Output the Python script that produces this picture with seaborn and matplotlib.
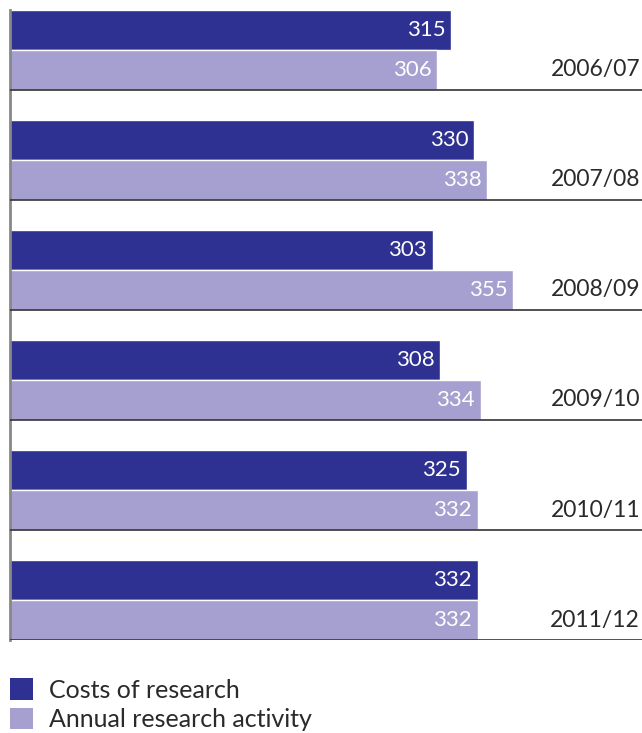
import pandas as pd
import numpy as np
import matplotlib.pyplot as plt
import seaborn as sns
from matplotlib.patches import Patch

# values
years = ["2006/07", "2007/08", "2008/09", "2009/10", "2010/11", "2011/12"]
costs = [315, 330, 303, 308, 325, 332]
activity = [306, 338, 355, 334, 332, 332]
series = ["Costs of research", "Annual research activity"]
colors = ["#2E3192", "#A5A0CF"]

df = pd.DataFrame({
    "year": years * 2,
    "value": costs + activity,
    "series": [series[0]] * len(years) + [series[1]] * len(years),
})

sns.set_style("white")
plt.rcParams["font.family"] = ["Lato", "DejaVu Sans"]

fig = plt.figure(figsize=(6.42, 7.33), dpi=100)
ax = fig.add_axes([10 / 642, 1 - 640 / 733, 632 / 642, 630 / 733])

bw = 0.727
sns.barplot(data=df, y="year", x="value", hue="series", orient="h",
            palette=colors, width=bw, dodge=True, legend=False, ax=ax,
            saturation=1)

ax.set_xlim(30.7, 438)
ax.set_ylim(len(years) - 1 + bw / 2, -bw / 2)

# bar value labels
for cont in ax.containers:
    for bar in cont:
        w = bar.get_width()
        yc = bar.get_y() + bar.get_height() / 2
        ax.annotate(f"{int(w)}", xy=(w, yc), xytext=(-4, 0),
                    textcoords="offset points", ha="right", va="center",
                    color="white", fontsize=16)

# separator lines and year labels
for i, yr in enumerate(years):
    ax.axhline(i + bw / 2, color="#333333", lw=1.2, zorder=3)
    ax.text(0.997, i + bw / 4, yr, transform=ax.get_yaxis_transform(),
            ha="right", va="center", fontsize=16.5, color="#2a2a2a")

for s in ["top", "right", "bottom"]:
    ax.spines[s].set_visible(False)
ax.spines["left"].set_color("#888888")
ax.spines["left"].set_linewidth(2)
ax.set_xticks([])
ax.set_yticks([])
ax.set_xlabel("")
ax.set_ylabel("")

handles = [Patch(facecolor=c, edgecolor="none") for c in colors]
leg = fig.legend(handles, series, loc="lower left", bbox_to_anchor=(10 / 642, 2 / 733),
                 frameon=False, handlelength=0.92, handleheight=0.92,
                 handletextpad=0.65, labelspacing=0.25, borderpad=0, borderaxespad=0,
                 prop={"size": 18})
for t in leg.get_texts():
    t.set_color("#2a2a2a")

fig.savefig("out.png", dpi=100)
